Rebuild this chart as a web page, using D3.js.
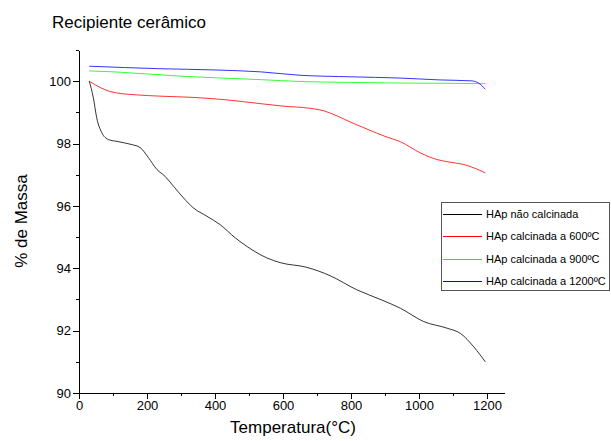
<!DOCTYPE html>
<html>
<head>
<meta charset="utf-8">
<script src="https://cdn.jsdelivr.net/npm/d3@7"></script>
<style>
  body { margin: 0; background: #fff; }
  svg { display: block; font-family: Arial, "Liberation Sans", sans-serif; }
  .axis path, .axis line { stroke: #000; shape-rendering: crispEdges; }
  .axis text { font-size: 13px; fill: #000; }
</style>
</head>
<body>
<div id="chart"></div>
<script>
// data (temperature in °C, mass in %)
var seriesNames = ['HAp não calcinada', 'HAp calcinada a 600ºC', 'HAp calcinada a 900ºC', 'HAp calcinada a 1200ºC']
var seriesColors = ['#000000', '#ff0000', '#00ff00', '#0000ff']

var tempRaw = [30, 42, 52, 67, 86, 116, 150, 180, 204, 229, 253, 278, 307, 336, 376, 415, 459, 494, 553, 592, 670, 739, 817, 891, 945, 1014, 1082, 1122, 1161, 1195]
var massRaw = [100, 99.48, 98.83, 98.35, 98.13, 98.06, 97.98, 97.87, 97.55, 97.17, 96.95, 96.63, 96.26, 95.94, 95.67, 95.40, 94.98, 94.70, 94.33, 94.18, 94.03, 93.76, 93.31, 92.98, 92.72, 92.29, 92.08, 91.91, 91.48, 91.0]

var temp600 = [30, 62, 91, 126, 170, 238, 336, 435, 533, 600, 680, 720, 760, 800, 850, 900, 945, 1004, 1043, 1092, 1131, 1195]
var mass600 = [100, 99.80, 99.67, 99.60, 99.56, 99.52, 99.48, 99.40, 99.28, 99.2, 99.13, 99.05, 98.88, 98.68, 98.45, 98.23, 98.06, 97.7, 97.52, 97.4, 97.33, 97.06]

var temp900 = [30, 100, 300, 533, 651, 800, 945, 1100, 1195]
var mass900 = [100.33, 100.30, 100.16, 100.05, 99.99, 99.96, 99.94, 99.93, 99.92]

var temp1200 = [30, 238, 400, 533, 650, 800, 945, 1062, 1155, 1175, 1195]
var mass1200 = [100.48, 100.40, 100.36, 100.30, 100.19, 100.14, 100.10, 100.04, 100.01, 99.94, 99.74]

var xTicks = [0, 200, 400, 600, 800, 1000, 1200]
var yTicks = [90, 92, 94, 96, 98, 100]

var width = 611, height = 441
var plotLeft = 79, plotRight = 504, plotTop = 50, plotBottom = 393

var svg = d3.select('#chart').append('svg')
  .attr('width', width)
  .attr('height', height)

var x = d3.scaleLinear().domain([0, 1250]).range([plotLeft, plotRight])
var y = d3.scaleLinear().domain([90, 101]).range([plotBottom, plotTop])

function zip(xs, ys) {
  return xs.map(function(t, i) { return [t, ys[i]] })
}
var series = [zip(tempRaw, massRaw), zip(temp600, mass600), zip(temp900, mass900), zip(temp1200, mass1200)]

// minor ticks first, then major on top
svg.append('g')
  .attr('class', 'axis')
  .attr('transform', 'translate(0,' + plotBottom + ')')
  .call(d3.axisBottom(x).tickValues(d3.range(100, 1250, 200)).tickSize(3).tickFormat('').tickSizeOuter(0))
svg.append('g')
  .attr('class', 'axis')
  .attr('transform', 'translate(' + plotLeft + ',0)')
  .call(d3.axisLeft(y).tickValues([91, 93, 95, 97, 99, 101]).tickSize(3).tickFormat('').tickSizeOuter(0))

svg.append('g')
  .attr('class', 'axis')
  .attr('transform', 'translate(0,' + plotBottom + ')')
  .call(d3.axisBottom(x).tickValues(xTicks).tickSize(6).tickPadding(2).tickSizeOuter(0).tickFormat(d3.format('d')))
svg.append('g')
  .attr('class', 'axis')
  .attr('transform', 'translate(' + plotLeft + ',0)')
  .call(d3.axisLeft(y).tickValues(yTicks).tickSize(6).tickPadding(2).tickSizeOuter(0).tickFormat(d3.format('d')))

var line = d3.line()
  .x(function(d) { return x(d[0]) })
  .y(function(d) { return y(d[1]) })
  .curve(d3.curveMonotoneX)

svg.selectAll('.series')
  .data(series)
  .enter().append('path')
    .attr('class', 'series')
    .attr('d', line)
    .attr('fill', 'none')
    .attr('stroke', function(d, i) { return seriesColors[i] })
    .attr('stroke-width', 0.8)

// titles
svg.append('text')
  .attr('x', 52).attr('y', 28)
  .style('font-size', '17px')
  .text('Recipiente cerâmico')

svg.append('text')
  .attr('x', 293).attr('y', 433)
  .attr('text-anchor', 'middle')
  .style('font-size', '17px')
  .text('Temperatura(°C)')

svg.append('text')
  .attr('transform', 'translate(27,221) rotate(-90)')
  .attr('text-anchor', 'middle')
  .style('font-size', '17px')
  .text('% de Massa')

// legend
var legend = svg.append('g')
legend.append('rect')
  .attr('x', 441.5).attr('y', 202.5)
  .attr('width', 168).attr('height', 88)
  .attr('fill', '#fff')
  .attr('stroke', '#555')

var rows = legend.selectAll('.row')
  .data(seriesNames)
  .enter().append('g')
    .attr('class', 'row')
    .attr('transform', function(d, i) { return 'translate(0,' + Math.round(214 + i * 22.3) + ')' })
rows.append('line')
  .attr('x1', 443).attr('x2', 482)
  .attr('y1', 0.5).attr('y2', 0.5)
  .attr('stroke', function(d, i) { return seriesColors[i] })
  .attr('stroke-width', 1)
rows.append('text')
  .attr('x', 486).attr('y', 4)
  .style('font-size', '11px')
  .text(function(d) { return d })
</script>
</body>
</html>
